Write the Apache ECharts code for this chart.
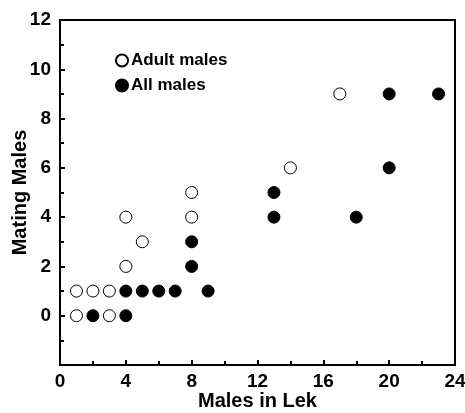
<!DOCTYPE html>
<html><head><meta charset="utf-8">
<script src="https://cdn.jsdelivr.net/npm/echarts@6/dist/echarts.min.js"></script>
<style>html,body{margin:0;padding:0;background:#fff}#c{width:465px;height:413px}</style>
</head><body><div id="c"></div>
<script>
const adultX = [1,3,1,2,3,4,4,5,8,8,14,17];
const adultY = [0,0,1,1,1,2,4,3,4,5,6,9];
const allX = [2,4,4,5,6,7,9,8,8,13,13,18,20,20,23];
const allY = [0,0,1,1,1,1,1,2,3,4,5,4,6,9,9];
const xTicks = [0,4,8,12,16,20,24];
const yTicks = [0,2,4,6,8,10,12];

const zip = (xs, ys) => xs.map((x, i) => [x, ys[i]]);
const font = '"Liberation Sans", Arial, sans-serif';
const chart = echarts.init(document.getElementById('c'));
const axisCommon = {
  axisLine: {show: true, onZero: false, lineStyle: {color: '#000', width: 2}},
  axisTick: {show: true, inside: true, length: 5, lineStyle: {color: '#000', width: 2}},
  minorTick: {show: true, splitNumber: 2, length: 4, lineStyle: {color: '#000', width: 2}},
  splitLine: {show: false},
  nameMoveOverlap: false,
  axisLabel: {color: '#000', fontFamily: font, fontWeight: 'bold', fontSize: 19},
  nameTextStyle: {color: '#000', fontFamily: font, fontWeight: 'bold', fontSize: 20}
};
chart.setOption({
  animation: false,
  grid: {left: 60, right: 10, top: 20, bottom: 48, show: true, borderColor: '#000', borderWidth: 2,
         containLabel: false, outerBoundsMode: 'none'},
  legend: {
    orient: 'vertical', left: 110, top: 47, itemWidth: 12, itemHeight: 12, itemGap: 8,
    textStyle: {color: '#000', fontFamily: font, fontWeight: 'bold', fontSize: 17, padding: [0,0,0,-2]},
    data: ['Adult males', 'All males']
  },
  xAxis: Object.assign({}, axisCommon, {
    type: 'value', min: 0, max: 24, interval: 4,
    name: 'Males in Lek', nameLocation: 'middle', nameGap: 26,
    axisLabel: Object.assign({}, axisCommon.axisLabel, {margin: 7, formatter: v => xTicks.includes(v) ? String(v) : ''})
  }),
  yAxis: Object.assign({}, axisCommon, {
    type: 'value', min: -2, max: 12, interval: 2,
    name: 'Mating Males', nameLocation: 'middle', nameGap: 30,
    axisLabel: Object.assign({}, axisCommon.axisLabel, {margin: 9, formatter: v => yTicks.includes(v) ? String(v) : ''})
  }),
  series: [
    {name: 'Adult males', type: 'scatter', symbol: 'circle', symbolSize: 12,
     itemStyle: {color: '#fff', borderColor: '#000', borderWidth: 1, opacity: 1}, data: zip(adultX, adultY)},
    {name: 'All males', type: 'scatter', symbol: 'circle', symbolSize: 12,
     itemStyle: {color: '#000', borderColor: '#000', borderWidth: 1, opacity: 1}, data: zip(allX, allY)}
  ]
});
</script></body></html>
